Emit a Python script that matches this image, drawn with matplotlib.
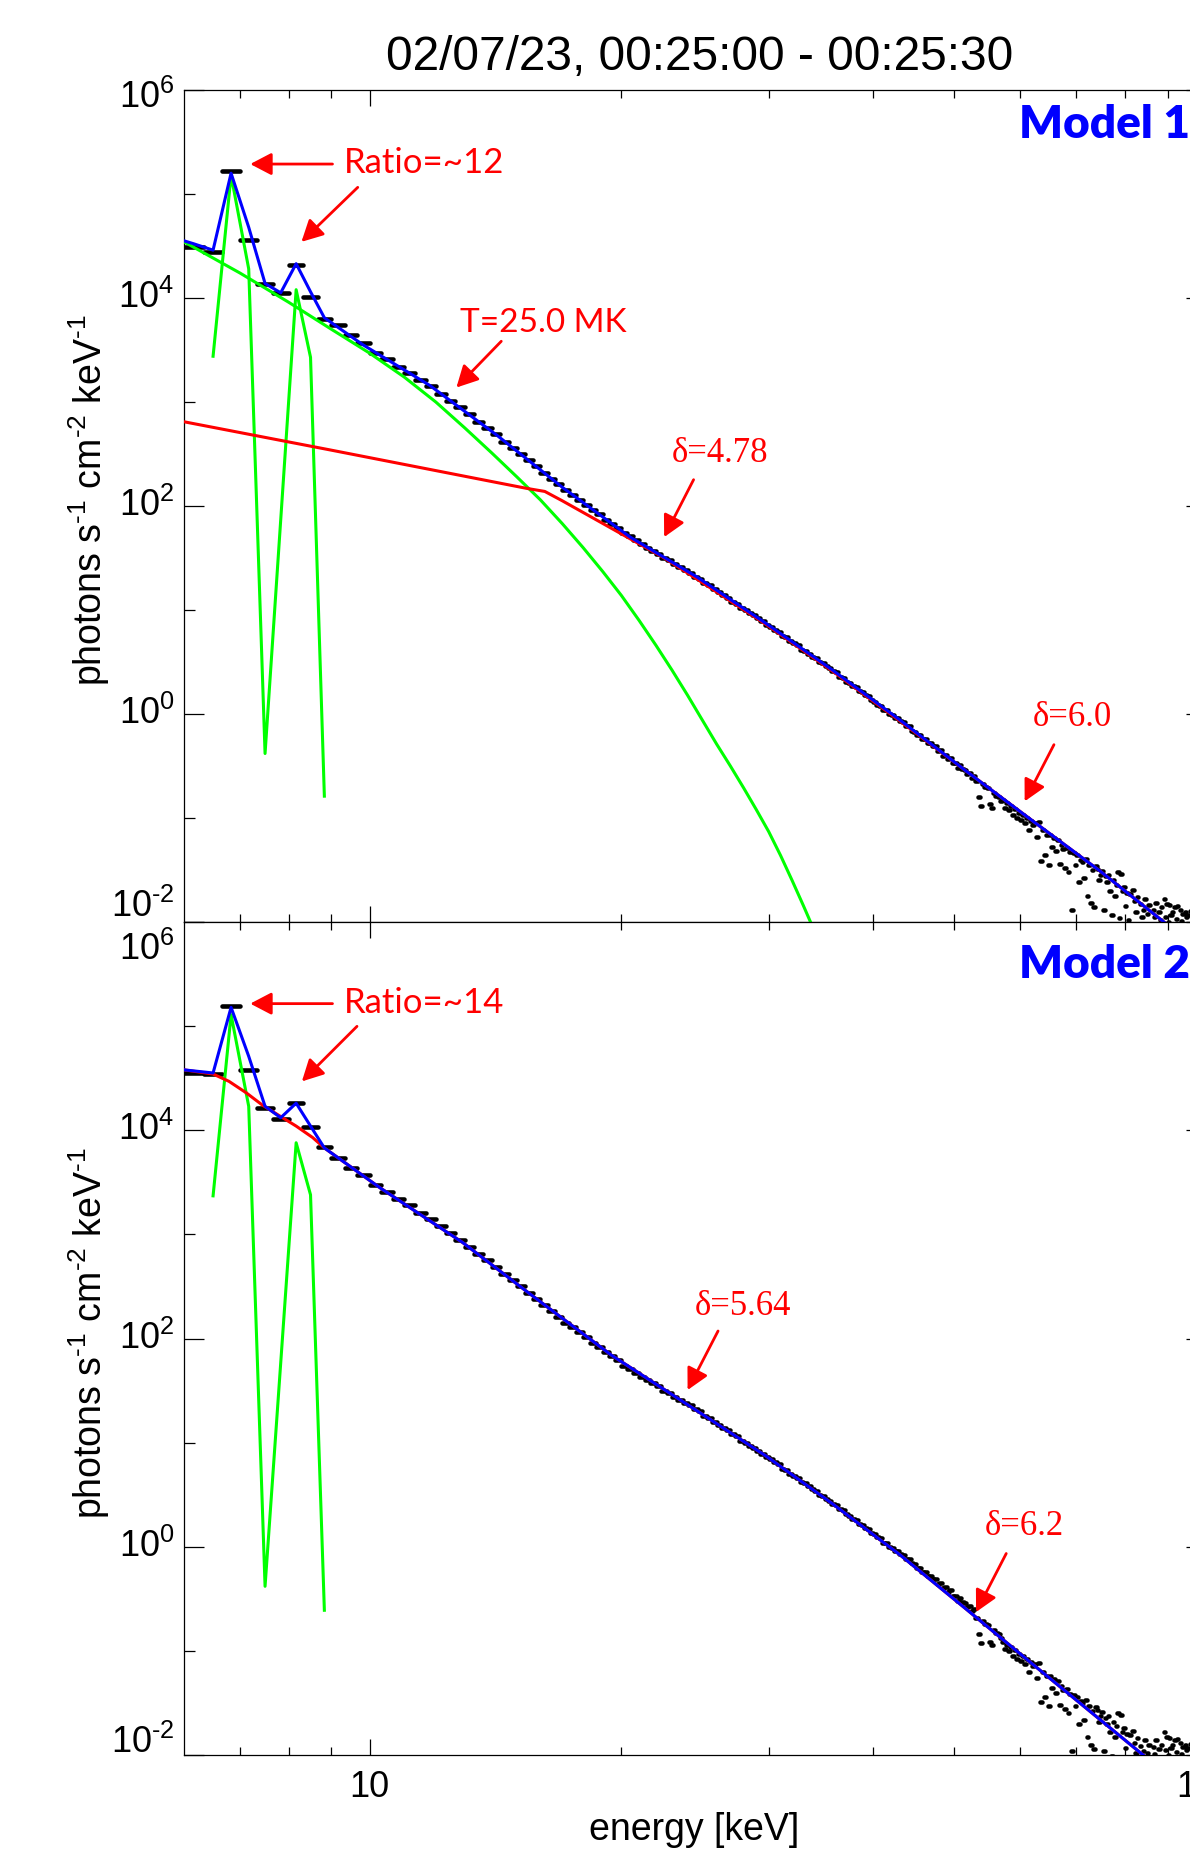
import numpy as np
import matplotlib
matplotlib.use('Agg')
import matplotlib.pyplot as plt
from matplotlib.ticker import FixedLocator, NullFormatter

plt.rcParams['font.family'] = ['Liberation Sans', 'DejaVu Sans']
plt.rcParams['mathtext.fontset'] = 'custom'
plt.rcParams['mathtext.rm'] = 'Liberation Sans'
plt.rcParams['mathtext.it'] = 'Liberation Sans:italic'
plt.rcParams['mathtext.bf'] = 'Liberation Sans:bold'

W, H = 1190, 1861

# energy bins: 1/3 keV wide, 6 - 100 keV
bin_width = 1.0 / 3.0
bin_lo = 6.0 + bin_width * np.arange(282)
bin_hi = bin_lo + bin_width

# log10 photon flux in the 6-10 keV bins (photon data depend on the fit)
flux_low_m1 = [4.49, 4.44, 5.22, 4.56, 4.13, 4.05, 4.32, 4.01, 3.80, 3.74, 3.64, 3.57]
flux_low_m2 = [4.55, 4.54, 5.19, 4.58, 4.21, 4.11, 4.26, 4.03, 3.84, 3.73, 3.64, 3.57]

# log10 photon flux 10-53 keV, three bins per keV (same in both fits)
flux_mid = [
    3.47, 3.41, 3.34,   3.28, 3.21, 3.15,   3.08, 3.01, 2.95,   2.88, 2.81, 2.75,
    2.69, 2.62, 2.56,   2.50, 2.44, 2.38,   2.32, 2.26, 2.21,   2.15, 2.11, 2.06,
    2.01, 1.96, 1.92,   1.87, 1.83, 1.79,   1.74, 1.71, 1.67,   1.63, 1.60, 1.57,
    1.54, 1.50, 1.48,   1.44, 1.41, 1.38,   1.36, 1.32, 1.30,   1.26, 1.24, 1.20,
    1.17, 1.14, 1.12,   1.08, 1.06, 1.02,   1.00, 0.97, 0.95,   0.92, 0.89, 0.86,
    0.84, 0.81, 0.79,   0.75, 0.74, 0.70,   0.68, 0.66, 0.62,   0.61, 0.58, 0.55,
    0.54, 0.50, 0.49,   0.46, 0.44, 0.41,   0.40, 0.36, 0.35,   0.31, 0.30, 0.27,
    0.26, 0.22, 0.21,   0.18, 0.17, 0.13,   0.12, 0.09, 0.08,   0.04, 0.04, 0.00,
    -0.01, -0.04, -0.04, -0.07, -0.08, -0.12, -0.12, -0.16, -0.17, -0.20, -0.20, -0.24,
    -0.24, -0.28, -0.28, -0.31, -0.31, -0.36, -0.35, -0.40, -0.39, -0.43, -0.42, -0.47,
    -0.47, -0.52, -0.49, -0.53, -0.54, -0.58, -0.57, -0.62, -0.60,
]

# log10 photon flux 53-100 keV, Model 1 panel
flux_tail_m1 = [
    -0.64, -0.80, -0.88, -0.67, -0.70, -0.71, -0.87, -0.90, -0.76, -0.79, -0.80, -0.84,
    -0.83, -0.90, -0.86, -0.92, -0.88, -0.97, -0.91, -1.00, -0.95, -1.02, -0.97, -1.05,
    -1.00, -1.12, -1.03, -1.07, -1.05, -1.18, -1.04, -1.41, -1.12, -1.36, -1.16, -1.45,
    -1.16, -1.28, -1.19, -1.32, -1.21, -1.44, -1.26, -1.30, -1.48, -1.29, -1.52, -1.33,
    -1.88, -1.34, -1.45, -1.36, -1.62, -1.40, -1.42, -1.58, -1.39, -1.75, -1.45, -1.82,
    -1.50, -1.86, -1.46, -1.49, -1.60, -1.55, -1.51, -1.88, -1.56, -1.62, -1.55, -1.70,
    -1.93, -1.60, -1.75, -1.64, -1.52, -1.96, -1.54, -1.70, -1.66, -1.85, -1.72, -1.98,
    -1.73, -2.05, -1.69, -1.80, -1.90, -1.76, -2.10, -1.83, -1.95, -1.88, -1.78, -2.20,
    -1.92, -1.84, -2.03, -2.15, -1.88, -1.95, -1.82, -2.08, -1.90, -1.98, -1.86, -2.12,
    -1.78, -1.95, -1.83, -2.00, -1.84, -1.93, -1.90, -2.04, -1.86, -1.97, -1.85, -2.10,
    -1.88, -1.99, -1.92, -2.06, -1.90, -1.95, -1.93, -2.02, -1.89, -1.98, -1.87, -2.06,
    -1.91, -2.12, -1.88, -2.00, -1.93, -2.15, -1.89, -2.03, -1.96,
]

# log10 photon flux 53-100 keV, Model 2 panel
flux_tail_m2 = [
    -0.68, -0.84, -0.92, -0.71, -0.74, -0.75, -0.91, -0.94, -0.80, -0.83, -0.84, -0.88,
    -0.91, -0.98, -0.94, -1.00, -0.96, -1.05, -0.99, -1.08, -1.03, -1.10, -1.05, -1.13,
    -1.08, -1.20, -1.11, -1.15, -1.13, -1.26, -1.12, -1.49, -1.20, -1.44, -1.24, -1.53,
    -1.24, -1.36, -1.27, -1.40, -1.29, -1.52, -1.34, -1.38, -1.56, -1.37, -1.60, -1.41,
    -1.96, -1.42, -1.53, -1.44, -1.70, -1.48, -1.50, -1.66, -1.47, -1.83, -1.53, -1.90,
    -1.58, -1.94, -1.54, -1.57, -1.68, -1.63, -1.59, -1.96, -1.64, -1.70, -1.63, -1.78,
    -2.01, -1.68, -1.83, -1.72, -1.60, -2.04, -1.62, -1.78, -1.74, -1.93, -1.80, -2.06,
    -1.81, -2.13, -1.77, -1.88, -1.98, -1.84, -2.18, -1.91, -2.03, -1.96, -1.86, -2.28,
    -1.98, -1.90, -2.09, -2.19, -1.92, -1.99, -1.86, -2.12, -1.94, -2.02, -1.90, -2.16,
    -1.78, -1.95, -1.83, -2.00, -1.84, -1.93, -1.90, -2.04, -1.86, -1.97, -1.85, -2.10,
    -1.88, -1.99, -1.92, -2.06, -1.90, -1.95, -1.93, -2.02, -1.89, -1.98, -1.87, -2.06,
    -1.91, -2.12, -1.88, -2.00, -1.93, -2.15, -1.89, -2.03, -1.96,
]

# Model 1: thermal continuum (green), line emission (green), thick target (red), total (blue)
m1_therm_e = [6, 7, 8, 9, 10, 11, 12, 13, 14, 15, 16, 17, 18, 19, 20, 21, 22, 23, 24, 25,
              26, 27, 28, 29, 30, 31, 32, 33, 34]
m1_therm = [4.54, 4.24, 3.96, 3.70, 3.47, 3.24, 3.00, 2.75, 2.51, 2.28, 2.06, 1.83, 1.60,
            1.37, 1.14, 0.90, 0.66, 0.42, 0.18, -0.06, -0.29, -0.50, -0.71, -0.92, -1.13,
            -1.36, -1.60, -1.84, -2.08]
m1_lines_e = [6.5, 6.83, 7.17, 7.5, 8.17, 8.5, 8.83]
m1_lines = [3.44, 5.18, 4.28, -0.38, 4.08, 3.43, -0.79]
m1_nt_e = [6.0, 8.96, 15.4, 16.2, 17.0, 22.4, 24.6, 29.8, 35.8, 43.1, 51.7, 62.1, 74.7, 88.1, 100.0]
m1_nt = [2.81, 2.54, 2.17, 2.14, 2.05, 1.51, 1.30, 0.86, 0.41, -0.07, -0.55, -1.03, -1.51, -1.97, -2.32]
m1_tot_e = [6.0, 6.17, 6.5, 6.83, 7.17, 7.5, 7.83, 8.17, 8.5, 8.83, 9.82, 11.8, 14.2, 17.0,
            20.5, 24.6, 29.8, 35.8, 43.1, 51.7, 62.1, 74.7, 88.1, 100.0]
m1_tot = [4.55, 4.52, 4.46, 5.20, 4.68, 4.14, 4.05, 4.33, 4.06, 3.81, 3.55, 3.16, 2.68, 2.18,
          1.70, 1.32, 0.87, 0.42, -0.06, -0.55, -1.03, -1.51, -1.97, -2.32]

# Model 2: line emission (green), continuum (red), total (blue)
m2_lines_e = [6.5, 6.83, 7.17, 7.5, 8.17, 8.5, 8.83]
m2_lines = [3.37, 5.11, 4.23, -0.38, 3.88, 3.38, -0.61]
m2_cont_e = [6.0, 6.5, 6.79, 7.12, 7.45, 7.8, 8.17, 8.55, 8.83, 10.28, 12.93, 15.54,
             19.46, 24.8, 29.8, 35.8, 43.1, 51.7, 62.1, 74.7, 84.1, 100.0]
m2_cont = [4.58, 4.54, 4.47, 4.36, 4.24, 4.14, 4.04, 3.93, 3.83, 3.45, 2.92, 2.43,
           1.84, 1.29, 0.87, 0.41, -0.08, -0.60, -1.13, -1.66, -2.00, -2.47]
m2_tot_e = [6.0, 6.5, 6.83, 7.17, 7.5, 7.83, 8.17, 8.5, 8.83, 10.28, 12.93, 15.54,
            19.46, 24.8, 29.8, 35.8, 43.1, 51.7, 62.1, 74.7, 84.1, 100.0]
m2_tot = [4.58, 4.55, 5.18, 4.71, 4.23, 4.12, 4.26, 4.04, 3.83, 3.45, 2.92, 2.43,
          1.84, 1.29, 0.87, 0.41, -0.08, -0.60, -1.13, -1.66, -2.00, -2.47]

RED, GREEN, BLUE = '#ff0000', '#00ff00', '#0000ff'

fig = plt.figure(figsize=(W / 100, H / 100), dpi=100)
x0, x1 = 184, 1206
ax1 = fig.add_axes([x0 / W, 1 - 922 / H, (x1 - x0) / W, (922 - 90) / H])
ax2 = fig.add_axes([x0 / W, 1 - 1755 / H, (x1 - x0) / W, (1755 - 922) / H])


def arrow(ax, tail, tip):
    ax.annotate('', xy=tip, xytext=tail,
                arrowprops=dict(arrowstyle='-|>,head_length=0.65,head_width=0.34',
                                color=RED, lw=2.0, mutation_scale=20,
                                shrinkA=0, shrinkB=0))


def setup(ax, ylab_offsets):
    ax.set_xscale('log')
    ax.set_yscale('log')
    ax.set_xlim(6, 100)
    ax.set_ylim(1e-2, 1e6)
    ax.xaxis.set_major_locator(FixedLocator([10, 100]))
    ax.xaxis.set_minor_locator(FixedLocator([7, 8, 9, 20, 30, 40, 50, 60, 70, 80, 90]))
    ax.xaxis.set_minor_formatter(NullFormatter())
    ax.yaxis.set_major_locator(FixedLocator([1e-2, 1, 1e2, 1e4, 1e6]))
    ax.yaxis.set_minor_locator(FixedLocator([1e-1, 10, 1e3, 1e5]))
    ax.yaxis.set_major_formatter(NullFormatter())
    ax.yaxis.set_minor_formatter(NullFormatter())
    ax.tick_params(axis='x', which='major', direction='in', length=11.5, width=0.9,
                   top=True, bottom=True, labelsize=26, pad=11)
    ax.tick_params(axis='x', which='minor', direction='in', length=5.8, width=0.9,
                   top=True, bottom=True)
    ax.tick_params(axis='y', which='major', direction='in', length=14.5, width=0.9,
                   left=True, right=True)
    ax.tick_params(axis='y', which='minor', direction='in', length=8, width=0.9,
                   left=True, right=True)
    for s in ax.spines.values():
        s.set_linewidth(0.9)
    for v, lab in zip([1e-2, 1, 1e2, 1e4, 1e6],
                      ['10$^{\\text{-2}}$', '10$^{0}$', '10$^{2}$', '10$^{4}$', '10$^{6}$']):
        ax.annotate(lab, xy=(0, v), xycoords=('axes fraction', 'data'),
                    xytext=(-7, ylab_offsets.get(v, 0)), textcoords='offset points',
                    ha='right', va='center', fontsize=26)


def draw_data(ax, flux_low, flux_tail):
    vals = 10 ** np.array(flux_low + flux_mid + flux_tail)
    lc = ax.hlines(vals, bin_lo, bin_hi, colors='k', lw=3.3, zorder=2)
    lc.set_capstyle('round')


# ---- top panel: Model 1
setup(ax1, {1e6: -6, 1e-2: 11})
ax1.tick_params(axis='x', labelbottom=False)
draw_data(ax1, flux_low_m1, flux_tail_m1)
ax1.plot(m1_therm_e, 10 ** np.array(m1_therm), color=GREEN, lw=2.2, zorder=3)
ax1.plot(m1_lines_e, 10 ** np.array(m1_lines), color=GREEN, lw=2.2, zorder=3)
ax1.plot(m1_nt_e, 10 ** np.array(m1_nt), color=RED, lw=2.2, zorder=4)
ax1.plot(m1_tot_e, 10 ** np.array(m1_tot), color=BLUE, lw=2.2, zorder=5)

sans = ['Lato', 'DejaVu Sans']
serif = ['Liberation Serif', 'DejaVu Serif']
ax1.text(9.31, 10 ** 5.20, 'Ratio=~12', color=RED, fontsize=25, family=sans,
         ha='left', va='baseline')
arrow(ax1, (9.03, 10 ** 5.288), (7.20, 10 ** 5.288))
arrow(ax1, (9.68, 10 ** 5.064), (8.29, 10 ** 4.54))
ax1.text(12.81, 10 ** 3.671, 'T=25.0 MK', color=RED, fontsize=24, family=sans,
         ha='left', va='baseline')
arrow(ax1, (14.37, 10 ** 3.584), (12.70, 10 ** 3.139))
ax1.text(23.0, 10 ** 2.42, 'δ=4.78', color=RED, fontsize=25, family=serif,
         ha='left', va='baseline')
arrow(ax1, (24.4, 10 ** 2.253), (22.5, 10 ** 1.701))
ax1.text(62.05, 10 ** -0.112, 'δ=6.0', color=RED, fontsize=25, family=serif,
         ha='left', va='baseline')
arrow(ax1, (65.8, 10 ** -0.295), (60.7, 10 ** -0.84))

# ---- bottom panel: Model 2
setup(ax2, {1e6: -20, 1e-2: 9})
ax2.set_xticklabels(['10', '100'])
draw_data(ax2, flux_low_m2, flux_tail_m2)
ax2.plot(m2_lines_e, 10 ** np.array(m2_lines), color=GREEN, lw=2.2, zorder=3)
ax2.plot(m2_cont_e, 10 ** np.array(m2_cont), color=RED, lw=2.2, zorder=4)
ax2.plot(m2_tot_e, 10 ** np.array(m2_tot), color=BLUE, lw=2.2, zorder=5)

ax2.text(9.31, 10 ** 5.13, 'Ratio=~14', color=RED, fontsize=25, family=sans,
         ha='left', va='baseline')
arrow(ax2, (9.03, 10 ** 5.216), (7.20, 10 ** 5.216))
arrow(ax2, (9.66, 10 ** 4.998), (8.30, 10 ** 4.469))
ax2.text(24.5, 10 ** 2.226, 'δ=5.64', color=RED, fontsize=25, family=serif,
         ha='left', va='baseline')
arrow(ax2, (26.1, 10 ** 2.072), (24.0, 10 ** 1.505))
ax2.text(54.4, 10 ** 0.111, 'δ=6.2', color=RED, fontsize=25, family=serif,
         ha='left', va='baseline')
arrow(ax2, (57.7, 10 ** -0.065), (53.1, 10 ** -0.627))

# ---- figure texts
fig.text(700 / W, 1 - 70 / H, '02/07/23, 00:25:00 - 00:25:30', fontsize=34.5,
         ha='center', va='baseline')
fig.text(1190 / W, 1 - 138 / H, 'Model 1', fontsize=33, fontweight='heavy', color=BLUE,
         family=sans, ha='right', va='baseline')
fig.text(1190 / W, 1 - 978 / H, 'Model 2', fontsize=33, fontweight='heavy', color=BLUE,
         family=sans, ha='right', va='baseline')
ylab = 'photons s$^{\\text{-1}}$ cm$^{\\text{-2}}$ keV$^{\\text{-1}}$'
fig.text(89 / W, 1 - 500 / H, ylab, rotation=90, fontsize=27, ha='center', va='center')
fig.text(89 / W, 1 - 1333 / H, ylab, rotation=90, fontsize=27, ha='center', va='center')
fig.text(694 / W, 1 - 1840 / H, 'energy [keV]', fontsize=27, ha='center', va='baseline')

fig.savefig('out.png', dpi=100)
